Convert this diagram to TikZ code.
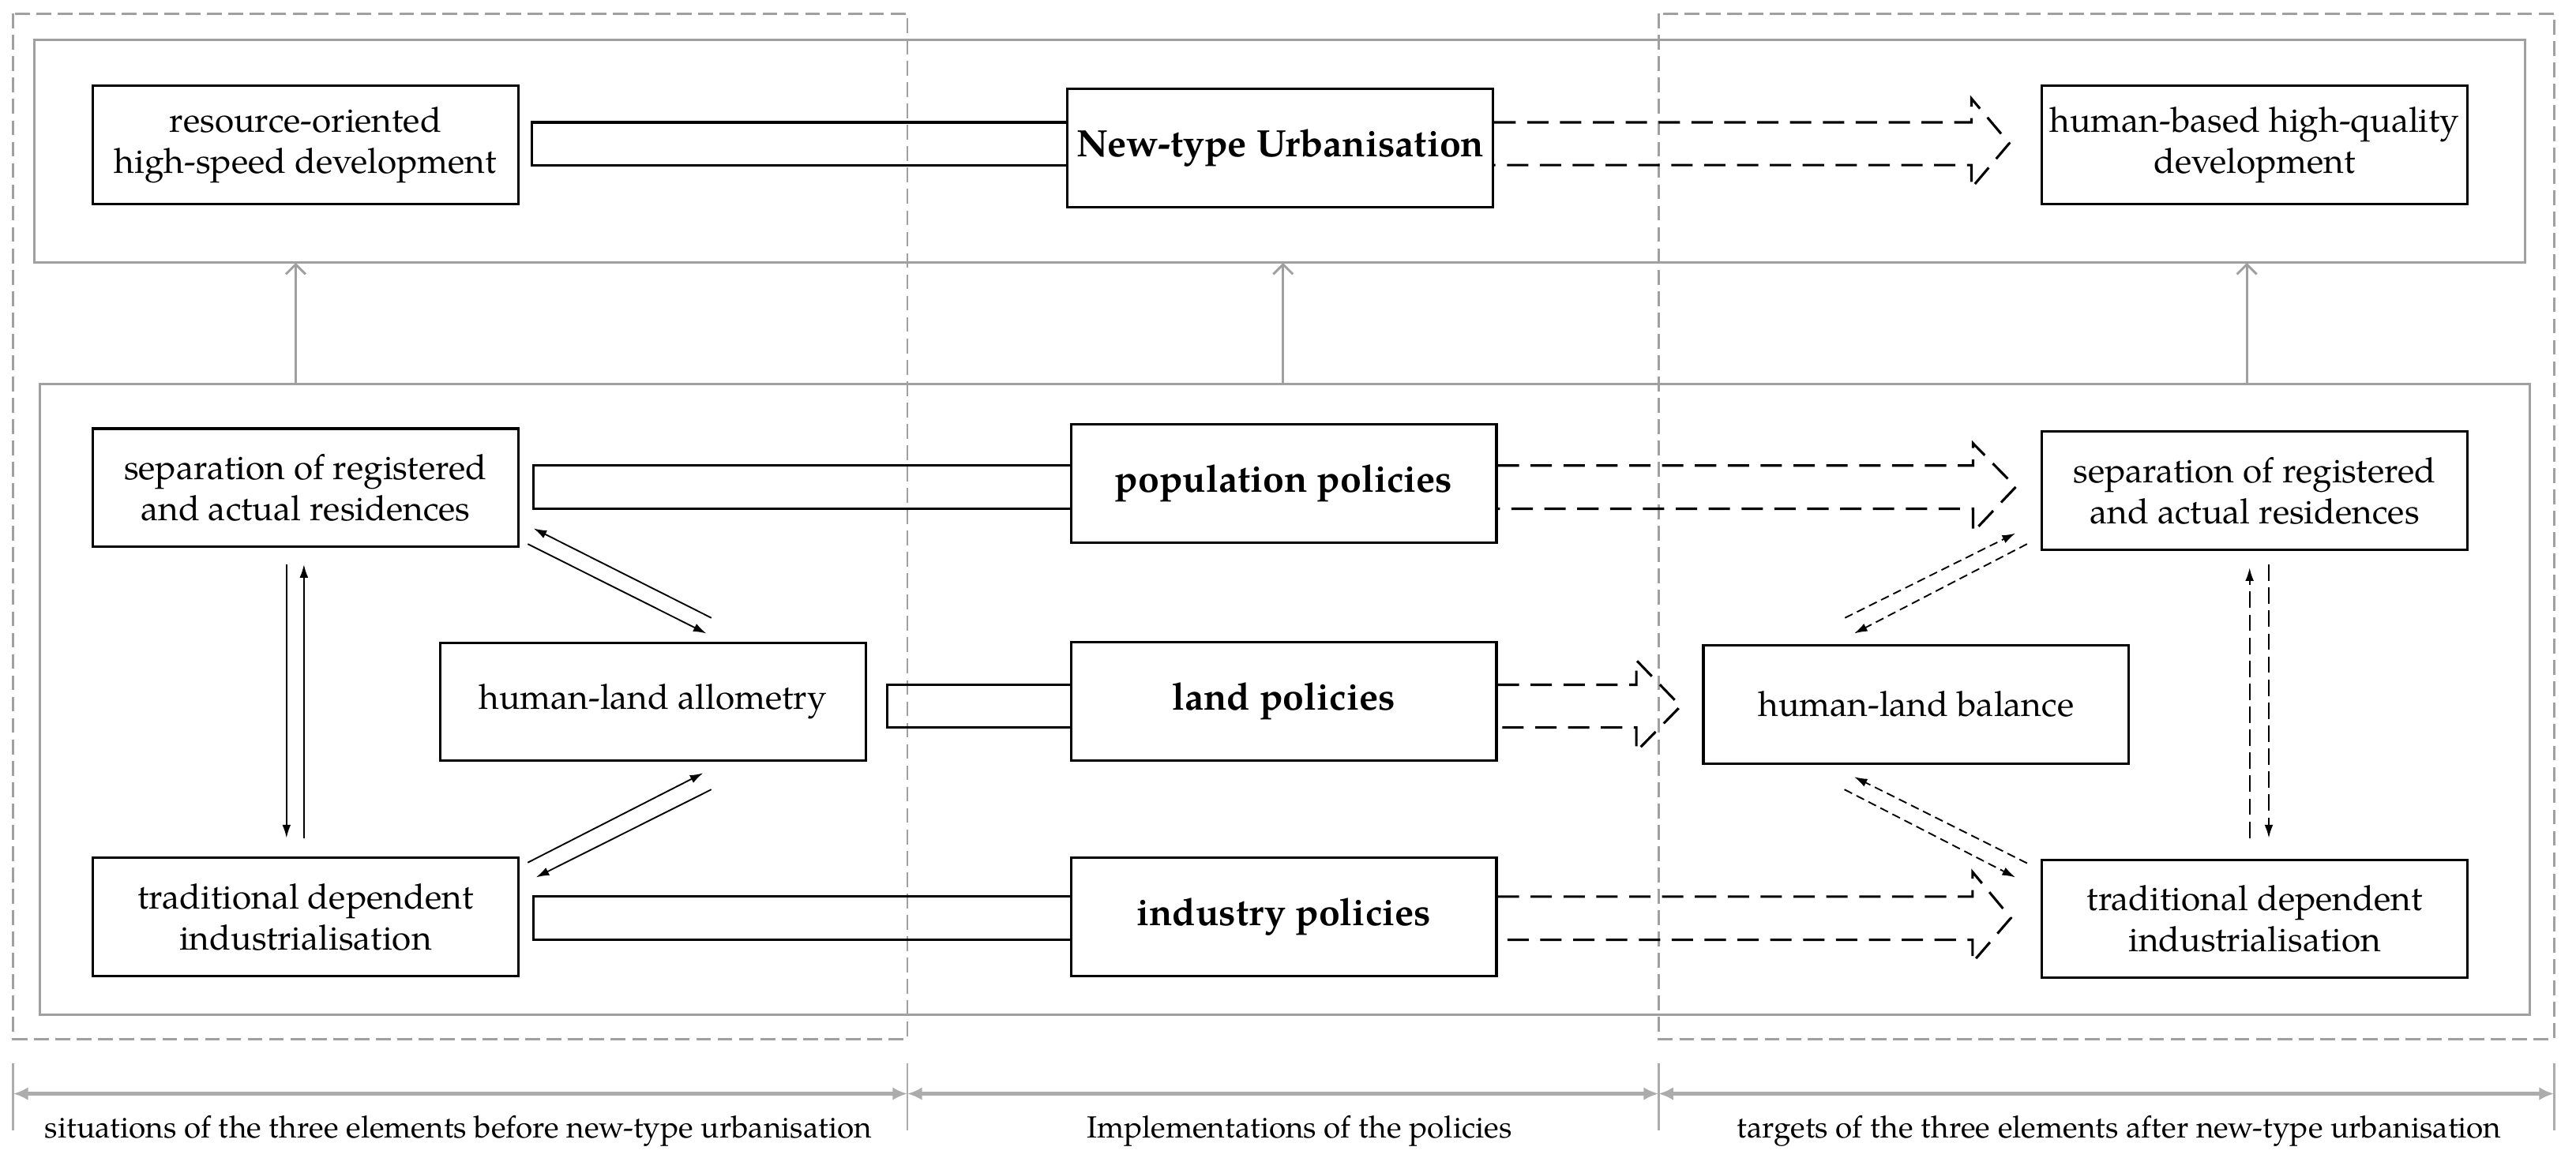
\documentclass[tikz,border=0pt]{standalone}
\usepackage{fontspec}
\setmainfont{TeX Gyre Pagella}
\usetikzlibrary{arrows.meta,calc}
\definecolor{frameg}{RGB}{160,160,160}
\definecolor{dimg}{RGB}{172,172,172}
\begin{document}
\begin{tikzpicture}[x=0.5pt,y=-0.5pt,
  box/.style={draw=black, line width=0.75pt, minimum width=129.5pt, minimum height=36pt,
    inner sep=0pt, align=center, font=\fontsize{10.6}{12.5}\selectfont},
  boldbox/.style={box, font=\fontsize{11.6}{14}\selectfont\bfseries},
  dashframe/.style={draw=frameg, line width=0.7pt, dash pattern=on 4.5pt off 2pt},
  grayframe/.style={draw=frameg, line width=0.75pt, inner sep=0pt, outer sep=0pt},
  bar/.style={draw=black, line width=0.75pt},
  dbar/.style={draw=black, line width=0.75pt, dash pattern=on 6.5pt off 3.5pt},
  thinarrow/.style={draw=black, line width=0.45pt, -{Latex[length=4pt,width=2.6pt]}},
  thindash/.style={thinarrow, dash pattern=on 2.6pt off 1.5pt},
  vdash/.style={thinarrow, dash pattern=on 5pt off 2pt},
  uparrow/.style={draw=frameg, line width=0.7pt, -{Straight Barb[length=3pt,width=6pt]}},
  dimline/.style={draw=dimg, line width=1pt, {Latex[length=4.5pt,width=4pt]}-{Latex[length=4.5pt,width=4pt]}},
  dimtick/.style={draw=dimg, line width=0.7pt},
  lab/.style={font=\fontsize{9.3}{11}\selectfont, anchor=base, inner sep=0pt}]
\useasboundingbox (0,0) rectangle (1568,714);

% dashed section frames
\draw[dashframe] (8.1,8.3) rectangle (552.3,632.6);
\draw[dashframe] (1009.5,8.3) rectangle (1554.6,632.6);

% gray frames
\node[grayframe, minimum width=758.05pt, minimum height=67.8pt] (topframe) at (778.95,92.2) {};
\node[grayframe, minimum width=757.85pt, minimum height=192pt] (botframe) at (782.15,426) {};

% boxes
\node[box] (res) at (186,88.3) {resource-oriented\\high-speed development};
\node[boldbox] (newt) at (779.3,90) {New-type Urbanisation};
\node[box] (hum) at (1372.4,88.3) {human-based high-quality\\development};
\node[box] (sepL) at (186,297) {separation of registered\\and actual residences};
\node[boldbox] (pop) at (781.4,294.4) {population policies};
\node[box] (sepR) at (1372.4,298.8) {separation of registered\\and actual residences};
\node[box] (allo) at (397.5,427.3) {human-land allometry};
\node[boldbox] (land) at (781.4,427) {land policies};
\node[box] (bal) at (1166.3,428.9) {human-land balance};
\node[box] (tradL) at (186,558.3) {traditional dependent\\industrialisation};
\node[boldbox] (ind) at (781.4,558.3) {industry policies};
\node[box] (tradR) at (1372.4,559.5) {traditional dependent\\industrialisation};

% gray arrows between frames
\draw[uparrow] (botframe.north -| 180,0) -- (topframe.south -| 180,0);
\draw[uparrow] (botframe.north -| 781,0) -- (topframe.south -| 781,0);
\draw[uparrow] (botframe.north -| 1367.6,0) -- (topframe.south -| 1367.6,0);

% hollow bars (solid)
\draw[bar] (newt.west |- 0,74.5) -- (323.8,74.5) -- (323.8,100.5) -- (newt.west |- 0,100.5);
\draw[bar] (pop.west |- 0,283.5) -- (324.8,283.5) -- (324.8,309.8) -- (pop.west |- 0,309.8);
\draw[bar] (land.west |- 0,417) -- (540,417) -- (540,443) -- (land.west |- 0,443);
\draw[bar] (ind.west |- 0,546) -- (324.8,546) -- (324.8,572.3) -- (ind.west |- 0,572.3);

% hollow dashed arrows
\draw[dbar] (newt.east |- 0,74.5) -- (1200,74.5) -- (1200,60) -- (1223,87.3) -- (1200,114.5) -- (1200,100.5) -- (newt.east |- 0,100.5);
\draw[dbar] (pop.east |- 0,283.5) -- (1201,283.5) -- (1201,270) -- (1227,296.5) -- (1201,324) -- (1201,309.8) -- (pop.east |- 0,309.8);
\draw[dbar] (land.east |- 0,417) -- (996,417) -- (996,402) -- (1023,430) -- (996,457.6) -- (996,443) -- (land.east |- 0,443);
\draw[dbar] (ind.east |- 0,546) -- (1200.7,546) -- (1200.7,531) -- (1224,559) -- (1200.7,586) -- (1200.7,572.3) -- (ind.east |- 0,572.3);

% left thin arrows
\draw[thinarrow] ($(sepL.south)+(-11.6,10)$) -- ($(tradL.north)+(-11.6,-11.3)$);
\draw[thinarrow] ($(tradL.north)+(-1,-11.3)$) -- ($(sepL.south)+(-1,10)$);
\draw[thinarrow] ($(allo.north)+(35.5,-14.3)$) -- ($(sepL.south east)+(8.5,-12)$);
\draw[thinarrow] ($(sepL.south east)+(5,-2.5)$) -- ($(allo.north)+(32.5,-4.8)$);
\draw[thinarrow] ($(tradL.north east)+(5,3.7)$) -- ($(allo.south)+(30.5,6.7)$);
\draw[thinarrow] ($(allo.south)+(35.5,16.7)$) -- ($(tradL.north east)+(10,12.7)$);

% right dashed thin arrows
\draw[thindash] ($(bal.north)+(-43.3,-15.9)$) -- ($(sepR.south west)+(-15.4,-10.8)$);
\draw[thindash] ($(sepR.south west)+(-8.3,-4.3)$) -- ($(bal.north)+(-37.7,-6.4)$);
\draw[thindash] ($(tradR.north west)+(-8.3,2.9)$) -- ($(bal.south)+(-37.7,7.4)$);
\draw[thindash] ($(bal.south)+(-43.6,15.1)$) -- ($(tradR.north west)+(-15.4,11.5)$);
\draw[vdash] ($(tradR.north)+(-3.1,-12.5)$) -- ($(sepR.south)+(-3.1,10.2)$);
\draw[vdash] ($(sepR.south)+(8.6,8.2)$) -- ($(tradR.north)+(8.6,-12.5)$);

% bottom dimension lines
\coordinate (t0) at (8.1,666);
\coordinate (t1) at (552.3,666);
\coordinate (t2) at (1009.5,666);
\coordinate (t3) at (1554.6,666);
\foreach \t in {t0,t1,t2,t3} {\draw[dimtick] ($(\t)+(0,-18.5)$) -- ($(\t)+(0,22.5)$);}
\draw[dimline] (t0) -- (t1);
\draw[dimline] (t1) -- (t2);
\draw[dimline] (t2) -- (t3);
\node[lab] (lab1) at (279,693) {situations of the three elements before new-type urbanisation};
\node[lab] (lab2) at (791,693) {Implementations of the policies};
\node[lab] (lab3) at (1290,693) {targets of the three elements after new-type urbanisation};
\end{tikzpicture}
\end{document}
